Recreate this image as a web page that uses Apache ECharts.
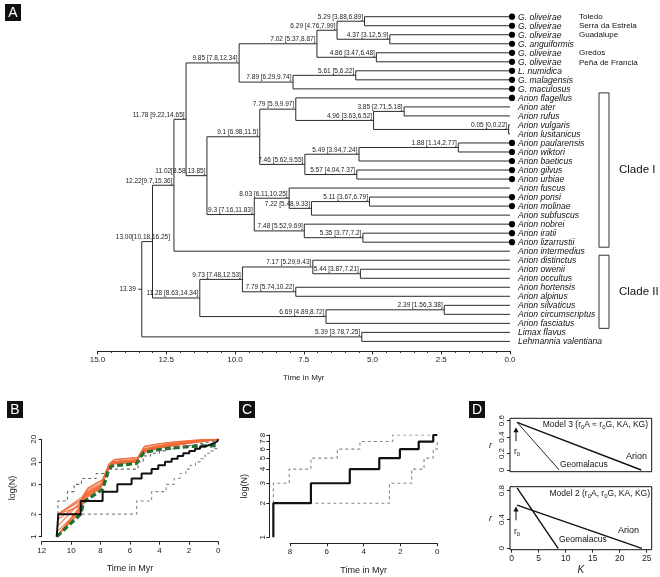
<!DOCTYPE html>
<html><head><meta charset="utf-8">
<script src="https://cdn.jsdelivr.net/npm/echarts@6/dist/echarts.min.js"></script>
<style>html,body{margin:0;padding:0;background:#fff}#c{width:660px;height:577px}</style>
</head><body><div id="c"></div>
<script>
// ---------- Panel A data ----------
const leafNames = ["G. oliveirae","G. oliveirae","G. oliveirae","G. anguiformis","G. oliveirae","G. oliveirae",
  "L. numidica","G. malagensis","G. maculosus","Arion flagellus","Arion ater","Arion rufus","Arion vulgaris",
  "Arion lusitanicus","Arion paularensis","Arion wiktori","Arion baeticus","Arion gilvus","Arion urbiae",
  "Arion fuscus","Arion ponsi","Arion molinae","Arion subfuscus","Arion nobrei","Arion iratii","Arion lizarrustii",
  "Arion intermedius","Arion distinctus","Arion owenii","Arion occultus","Arion hortensis","Arion alpinus",
  "Arion silvaticus","Arion circumscriptus","Arion fasciatus","Limax flavus","Lehmannia valentiana"];
const leafMarked = [1,1,1,1,1,1,1,1,1,1,0,0,0,0,1,1,1,1,1,0,1,1,0,1,1,1,0,0,0,0,0,0,0,0,0,0,0];
const leafPlaces = ["Toledo","Serra da Estrela","Guadalupe","","Gredos","Peña de Francia"];
const nodeAges = [5.29,4.37,6.29,4.86,7.02,5.61,7.89,9.85,3.85,0.05,4.96,7.79,1.88,5.49,5.57,7.46,9.1,
  5.11,7.22,8.03,5.35,7.48,9.3,11.02,11.78,12.22,5.44,7.17,7.79,9.73,2.39,6.69,11.28,13.00,5.39,13.39];
const nodeLabels = ["5.29 [3.88,6.89]","4.37 [3.12,5.9]","6.29 [4.76,7.99]","4.86 [3.47,6.48]","7.02 [5.37,8.87]",
  "5.61 [5,6.22]","7.89 [6.29,9.74]","9.85 [7.8,12.34]","3.85 [2.71,5.18]","0.05 [0,0.22]","4.96 [3.63,6.52]",
  "7.79 [5.9,9.97]","1.88 [1.14,2.77]","5.49 [3.94,7.24]","5.57 [4.04,7.37]","7.46 [5.62,9.55]","9.1 [6.98,11.5]",
  "5.11 [3.67,6.79]","7.22 [5.48,9.33]","8.03 [6.11,10.25]","5.35 [3.77,7.2]","7.48 [5.52,9.69]","9.3 [7.16,11.83]",
  "11.02[8.58,13.85]","11.78 [9.22,14.65]","12.22[9.7,15.36]","5.44 [3.87,7.21]","7.17 [5.29,9.43]",
  "7.79 [5.74,10.22]","9.73 [7.48,12.53]","2.39 [1.56,3.38]","6.69 [4.89,8.72]","11.28 [8.63,14.34]",
  "13.00[10.18,16.25]","5.39 [3.78,7.25]","13.39"];
const nodeKids = [["t0","t1"],["t2","t3"],["n0","n1"],["t4","t5"],["n2","n3"],["t6","t7"],["n5","t8"],["n4","n6"],
  ["t10","t11"],["t12","t13"],["n8","n9"],["t9","n10"],["t14","t15"],["n12","t16"],["t17","t18"],["n13","n14"],
  ["n11","n15"],["t20","t21"],["n17","t22"],["t19","n18"],["t24","t25"],["t23","n20"],["n19","n21"],["n16","n22"],
  ["n7","n23"],["n24","t26"],["t28","t29"],["t27","n26"],["t30","t31"],["n27","n28"],["t32","t33"],["n30","t34"],
  ["n29","n31"],["n25","n32"],["t35","t36"],["n33","n34"]];
const rootEdge = 0.13;
const cladeNames = ["Clade I","Clade II"];
const cladeFirst = [9, 27];
const cladeLast = [25, 34];

// ---------- Panel B data (time in Myr, N lineages) ----------
const bObserved = [[10.98,1],[10.87,2],[9.35,3],[7.86,4],[6.86,5],[5.89,6],[5.21,7],[4.53,8],[4.08,9],[3.62,10],
  [3.17,11],[2.76,12],[2.38,13],[1.97,14],[1.58,15],[1.24,16],[0.9,17],[0.56,18],[0.22,19],[0.05,20],[0,20]];
const bUpper = [[10.9,2],[10.9,3],[10.25,4],[9.8,5],[9.3,6],[8.3,7],[7.5,8],[5.45,10],[5.1,12],[4.6,13],[4.0,14],
  [3.5,15],[3.0,16],[2.3,17],[1.6,18],[0.9,19],[0.2,20],[0,20]];
const bLower = [[10.9,2],[5.55,3],[4.53,4],[3.55,5],[3.0,6],[2.6,7],[2.2,8],[1.9,9],[1.55,10],[1.24,11],[0.9,13],
  [0.56,14],[0.3,15],[0,16]];
const bModel = [[10.98,1],[9.35,2],[9.15,2.9],[7.85,4.3],[7.5,7.3],[7.25,8.8],[5.55,9.5],[5.3,11.5],[5.05,13.3],
  [4.0,14.6],[3.0,15.4],[2.0,16.0],[1.0,16.3],[0,16.5]];
const orangeA = [[10.98,1],[9.4,2.1],[9.05,3.2],[8.0,4.4],[7.6,7.0],[7.25,9.3],[5.6,9.9],[5.2,13.0],[4.0,15.2],[3.0,16.4],[2.0,17.6],[1.0,18.8],[0,19.8]];
const orangeB = [[10.98,1],[9.35,2.4],[9.0,3.5],[8.0,4.6],[7.6,7.4],[7.2,9.6],[5.6,10.1],[5.15,13.6],[4.0,15.6],[3.0,16.8],[2.0,17.9],[1.0,19.0],[0,20]];
const orangeC = [[10.98,1],[9.3,2.7],[9.0,3.7],[7.95,4.8],[7.55,7.8],[7.2,9.8],[5.55,10.3],[5.1,14.2],[4.0,16.0],[3.0,17.2],[2.0,18.2],[1.0,19.2],[0,20]];
const orangeD = [[10.9,1.4],[9.35,2.9],[8.95,3.9],[7.95,5.0],[7.5,8.2],[7.15,10.0],[5.55,10.5],[5.1,14.6],[4.0,16.3],[3.0,17.4],[2.0,18.4],[1.0,19.3],[0,20]];
const orangeE = [[10.9,2],[9.35,3.0],[8.9,4.1],[7.9,5.2],[7.5,8.6],[7.1,10.2],[5.5,10.8],[5.05,15.0],[4.0,16.6],[3.0,17.7],[2.0,18.6],[1.0,19.5],[0,20]];
const orangeF = [[10.9,2],[9.3,2.6],[9.0,3.6],[7.95,4.7],[7.55,7.6],[7.2,9.7],[5.6,10.2],[5.15,13.9],[4.0,15.9],[3.0,17.0],[2.0,18.0],[1.0,19.1],[0,20]];
const orangeG = [[10.98,1],[9.4,2.2],[9.05,3.3],[8.0,4.5],[7.6,7.2],[7.25,9.5],[5.6,10.0],[5.2,13.3],[4.0,15.4],[3.0,16.6],[2.0,17.8],[1.0,18.9],[0,19.9]];
const orangeH = [[10.9,1.7],[9.35,2.8],[9.0,3.8],[7.9,4.9],[7.5,8.0],[7.15,9.9],[5.5,10.6],[5.1,14.4],[4.0,16.2],[3.0,17.3],[2.0,18.3],[1.0,19.3],[0,20]];
const orangeI = [[10.9,2],[9.3,3.2],[8.9,4.3],[7.9,5.6],[7.45,9.2],[7.1,10.6],[5.5,11.3],[5.05,15.8],[4.0,17.3],[3.0,18.2],[2.0,19.0],[1.0,19.7],[0,20]];
const orangeJ = [[10.98,1],[9.35,2.5],[9.0,3.6],[7.95,4.7],[7.55,7.7],[7.2,9.7],[5.55,10.2],[5.1,14.0],[4.0,15.8],[3.0,17.0],[2.0,18.1],[1.0,19.1],[0,20]];
const orangeK = [[10.9,2],[9.25,3.4],[8.85,4.5],[7.85,5.8],[7.4,9.5],[7.05,10.8],[5.45,11.5],[5.0,16.2],[4.0,17.6],[3.0,18.5],[2.0,19.2],[1.0,19.8],[0,20]];
const orangeL = [[10.9,1.2],[9.4,2.3],[9.05,3.4],[8.0,4.5],[7.6,7.3],[7.25,9.4],[5.6,10.0],[5.2,13.2],[4.0,15.3],[3.0,16.5],[2.0,17.7],[1.0,18.9],[0,19.9]];
const bOrangeRuns = [orangeA,orangeB,orangeC,orangeD,orangeE,orangeF,orangeG,orangeH,orangeI,orangeJ,orangeK,orangeL];
const bNTicks = [1,2,5,10,20];

// ---------- Panel C data ----------
const cObserved = [[8.9,1],[8.9,2],[6.86,3],[4.75,4],[3.15,5],[2.03,6],[1.01,7],[0.22,8],[0,8]];
const cUpper = [[8.9,2],[8.9,3],[8.04,4],[6.86,5],[5.43,6],[4.2,7],[2.42,8],[0,8]];
const cLower = [[8.9,2],[2.6,3],[1.39,4],[0.72,5],[0.22,6],[0,7]];
const cNTicks = [1,2,3,4,5,6,7,8];

// ---------- Panel D data ----------
const dM3Arion = [[1,0.58],[24,0]];
const dM3Geo = [[1,0.58],[8.8,0]];
const dM2Arion = [[1,0.6],[24.1,0]];
const dM2Geo = [[1,0.84],[8.6,0]];
const dArrowTop = [0.8, 0.35, 0.52];   // K, r from, r to
const dArrowBot = [0.8, 0.39, 0.58];
const dKTicks = [0,5,10,15,20,25];
const dTopRTicks = [0,0.2,0.4,0.6];
const dBotRTicks = [0,0.4,0.8];

// ---------- build tree geometry ----------
const nodeY = [];
const yOf = k => k[0] === 't' ? +k.slice(1) : nodeY[+k.slice(1)];
const ageOf = k => k[0] === 't' ? 0 : nodeAges[+k.slice(1)];
const segs = [];
nodeKids.forEach((kids, i) => {
  const ya = yOf(kids[0]), yb = yOf(kids[1]);
  nodeY[i] = (ya + yb) / 2;
  segs.push([nodeAges[i], ya, nodeAges[i], yb]);
  kids.forEach(k => segs.push([nodeAges[i], yOf(k), ageOf(k), yOf(k)]));
});
const rootIdx = nodeAges.length - 1;
segs.push([nodeAges[rootIdx] + rootEdge, nodeY[rootIdx], nodeAges[rootIdx], nodeY[rootIdx]]);
const labelNudgePx = {33: 19};

const FONT = "Liberation Sans, Arial, sans-serif";
const log = v => Math.log10(v);
const toLog = arr => arr.map(p => [p[0], log(p[1])]);

const axisBase = (extra) => Object.assign({
  type: 'value', splitLine: {show: false},
  axisLine: {show: true, onZero: false, lineStyle: {color: '#222', width: 1}},
  axisTick: {show: true, length: 3, lineStyle: {color: '#222'}},
  axisLabel: {color: '#222', fontSize: 8, fontFamily: FONT},
  nameTextStyle: {color: '#222', fontSize: 9, fontFamily: FONT}
}, extra);

const chart = echarts.init(document.getElementById('c'), null, {renderer: 'canvas'});

const series = [];
// tree segments
series.push({
  type: 'custom', xAxisIndex: 0, yAxisIndex: 0, data: segs, encode: {x: [0, 2], y: [1, 3]},
  clip: false, silent: true,
  renderItem: (p, api) => {
    const a = api.coord([api.value(0), api.value(1)]);
    const b = api.coord([api.value(2), api.value(3)]);
    return {type: 'line', shape: {x1: a[0], y1: a[1], x2: b[0], y2: b[1]},
      style: {stroke: '#2a2a2a', lineWidth: 1}};
  }
});
// node labels
series.push({
  type: 'custom', xAxisIndex: 0, yAxisIndex: 0, clip: false, silent: true,
  data: nodeAges.map((a, i) => [a, nodeY[i], i]),
  renderItem: (p, api) => {
    const i = api.value(2);
    const c = api.coord([api.value(0), api.value(1)]);
    if (i === rootIdx) {
      return {type: 'text', x: c[0] - 6, y: c[1],
        style: {text: nodeLabels[i], align: 'right', verticalAlign: 'middle', fontSize: 6.5, fontFamily: FONT, fill: '#222'}};
    }
    return {type: 'text', x: c[0] - 1.5 + (labelNudgePx[i] || 0), y: c[1] - 1,
      style: {text: nodeLabels[i], align: 'right', verticalAlign: 'bottom', fontSize: 6.5, fontFamily: FONT, fill: '#222'}};
  }
});
// leaves
series.push({
  type: 'custom', xAxisIndex: 0, yAxisIndex: 0, clip: false, silent: true,
  data: leafNames.map((n, i) => [0, i, i]),
  renderItem: (p, api) => {
    const i = api.value(2);
    const c = api.coord([0, api.value(1)]);
    const kids = [];
    if (leafMarked[i]) kids.push({type: 'circle', shape: {cx: c[0] + 2, cy: c[1], r: 3.1}, style: {fill: '#000'}});
    kids.push({type: 'text', x: c[0] + 8, y: c[1] + 0.5,
      style: {text: leafNames[i], align: 'left', verticalAlign: 'middle', fontSize: 8.6, fontStyle: 'italic', fontFamily: FONT, fill: '#111'}});
    if (leafPlaces[i]) kids.push({type: 'text', x: c[0] + 69, y: c[1] + 0.5,
      style: {text: leafPlaces[i], align: 'left', verticalAlign: 'middle', fontSize: 8, fontFamily: FONT, fill: '#111'}});
    return {type: 'group', children: kids};
  }
});
// clade brackets
series.push({
  type: 'custom', xAxisIndex: 0, yAxisIndex: 0, clip: false, silent: true,
  data: cladeNames.map((n, i) => [0, cladeFirst[i], cladeLast[i], i]),
  renderItem: (p, api) => {
    const i = api.value(3);
    const a = api.coord([0, api.value(1)]);
    const b = api.coord([0, api.value(2)]);
    const x = a[0] + 89, y0 = a[1] - 5, y1 = b[1] + 5;
    return {type: 'group', children: [
      {type: 'rect', shape: {x: x, y: y0, width: 10, height: y1 - y0}, style: {fill: 'none', stroke: '#333', lineWidth: 1}},
      {type: 'text', x: x + 20, y: (y0 + y1) / 2,
        style: {text: cladeNames[i], align: 'left', verticalAlign: 'middle', fontSize: 11.5, fontFamily: FONT, fill: '#111'}}
    ]};
  }
});

// Panel B
bOrangeRuns.forEach(run => series.push({
  type: 'line', xAxisIndex: 1, yAxisIndex: 1, data: toLog(run), symbol: 'none', silent: true,
  lineStyle: {color: '#f36a3a', width: 1.1, opacity: 0.9}
}));
series.push({type: 'line', xAxisIndex: 1, yAxisIndex: 1, data: toLog(bModel), symbol: 'none', silent: true,
  lineStyle: {color: '#1d6f2e', width: 3.2, type: [6, 3]}});
series.push({type: 'line', xAxisIndex: 1, yAxisIndex: 1, data: toLog(bUpper), step: 'end', symbol: 'none', silent: true,
  lineStyle: {color: '#666', width: 1.1, type: [3, 3]}});
series.push({type: 'line', xAxisIndex: 1, yAxisIndex: 1, data: toLog(bLower), step: 'end', symbol: 'none', silent: true,
  lineStyle: {color: '#888', width: 1.1, type: [3, 3]}});
series.push({type: 'line', xAxisIndex: 1, yAxisIndex: 1, data: toLog(bObserved), step: 'end', symbol: 'none', silent: true,
  lineStyle: {color: '#111', width: 2}});

// Panel C
series.push({type: 'line', xAxisIndex: 2, yAxisIndex: 2, data: toLog(cUpper), step: 'end', symbol: 'none', silent: true,
  lineStyle: {color: '#888', width: 1.1, type: [3, 3]}});
series.push({type: 'line', xAxisIndex: 2, yAxisIndex: 2, data: toLog(cLower), step: 'end', symbol: 'none', silent: true,
  lineStyle: {color: '#888', width: 1.1, type: [3, 3]}});
series.push({type: 'line', xAxisIndex: 2, yAxisIndex: 2, data: toLog(cObserved), step: 'end', symbol: 'none', silent: true,
  lineStyle: {color: '#111', width: 2.2}});

// Panel D
const dLine = (xi, data, w) => ({type: 'line', xAxisIndex: xi, yAxisIndex: xi, data: data, symbol: 'none', silent: true,
  lineStyle: {color: '#111', width: w}});
series.push(dLine(4, dM3Arion, 1.4), dLine(4, dM3Geo, 0.9), dLine(5, dM2Arion, 1.4), dLine(5, dM2Geo, 1.4));
[[4, dArrowTop], [5, dArrowBot]].forEach(([xi, d]) => series.push({
  type: 'custom', xAxisIndex: xi, yAxisIndex: xi, data: [d], clip: false, silent: true,
  encode: {x: 0, y: [1, 2]},
  renderItem: (p, api) => {
    const a = api.coord([api.value(0), api.value(1)]);
    const b = api.coord([api.value(0), api.value(2)]);
    return {type: 'group', children: [
      {type: 'line', shape: {x1: a[0], y1: a[1], x2: b[0], y2: b[1] + 4}, style: {stroke: '#111', lineWidth: 1}},
      {type: 'polygon', shape: {points: [[b[0], b[1]], [b[0] - 2.6, b[1] + 5], [b[0] + 2.6, b[1] + 5]]}, style: {fill: '#111'}}
    ]};
  }
}));

const panelBox = (x, y, letter) => ({type: 'group', left: x, top: y, children: [
  {type: 'rect', shape: {x: 0, y: 0, width: 16, height: 17}, style: {fill: '#111'}},
  {type: 'text', x: 8, y: 9, style: {text: letter, fill: '#fff', fontSize: 14, fontFamily: FONT, align: 'center', verticalAlign: 'middle'}}
]});
const dText = (x, y, text, size, align) => ({type: 'text', x: x, y: y,
  style: {text: text, fontSize: size, fontFamily: FONT, fill: '#111', align: align || 'left', verticalAlign: 'middle', rich: {
    s: {fontSize: size * 0.7, fontFamily: FONT, fill: '#111', padding: [5, 0, 0, 0]}, t: {fontSize: size, fontFamily: FONT, fill: '#111'}}}});

chart.setOption({
  animation: false,
  backgroundColor: '#fff',
  grid: [
    {left: 97.5, width: 412.5, top: 12.2, height: 333.7},
    {left: 41.7, width: 176.6, top: 439.3, height: 97.4},
    {left: 269.3, width: 168, top: 435, height: 102.3},
    {left: 290, width: 147.3, top: 435, height: 102.3},
    {left: 510, width: 141.7, top: 418.3, height: 53.4, show: true, borderColor: '#111', borderWidth: 1, backgroundColor: 'transparent'},
    {left: 510, width: 141.7, top: 486.7, height: 63, show: true, borderColor: '#111', borderWidth: 1, backgroundColor: 'transparent'}
  ],
  xAxis: [
    axisBase({gridIndex: 0, min: 0, max: 15, interval: 2.5, inverse: true, offset: 5,
      axisTick: {show: true, length: 3.5, lineStyle: {color: '#222'}},
      minorTick: {show: true, splitNumber: 5, length: 2, lineStyle: {color: '#222'}},
      axisLabel: {color: '#222', fontSize: 8, fontFamily: FONT, margin: 5, formatter: v => v.toFixed(1)},
      name: 'Time in Myr', nameLocation: 'middle', nameGap: 23, nameTextStyle: {color: '#222', fontSize: 8, fontFamily: FONT}}),
    axisBase({gridIndex: 1, min: 0, max: 12, interval: 2, inverse: true, offset: 5,
      axisLabel: {color: '#222', fontSize: 8, fontFamily: FONT, margin: 5},
      name: 'Time in Myr', nameLocation: 'middle', nameGap: 22}),
    {type: 'value', gridIndex: 2, min: 0, max: 9.12, inverse: true, show: false},
    axisBase({gridIndex: 3, min: 0, max: 8, interval: 2, inverse: true, offset: 6,
      axisLabel: {color: '#222', fontSize: 8, fontFamily: FONT, margin: 4},
      name: 'Time in Myr', nameLocation: 'middle', nameGap: 23}),
    {type: 'value', gridIndex: 4, min: -0.31, max: 25.93, show: false},
    axisBase({gridIndex: 5, min: -0.31, max: 25.93, axisLine: {show: false, onZero: false},
      axisTick: {show: true, length: 3, customValues: dKTicks, lineStyle: {color: '#222'}},
      axisLabel: {color: '#222', fontSize: 8.5, fontFamily: FONT, margin: 4, customValues: dKTicks},
      name: 'K', nameLocation: 'middle', nameGap: 16, nameTextStyle: {color: '#222', fontSize: 10, fontStyle: 'italic', fontFamily: FONT}})
  ],
  yAxis: [
    {type: 'value', gridIndex: 0, min: -0.5, max: 36.5, inverse: true, show: false},
    axisBase({gridIndex: 1, min: 0, max: log(20),
      axisTick: {show: true, length: 3, customValues: bNTicks.map(log), lineStyle: {color: '#222'}},
      axisLabel: {color: '#222', fontSize: 8, fontFamily: FONT, margin: 4, rotate: 90, customValues: bNTicks.map(log),
        formatter: v => String(Math.round(Math.pow(10, v)))},
      name: 'log(N)', nameLocation: 'middle', nameGap: 25, nameRotate: 90}),
    axisBase({gridIndex: 2, min: 0, max: log(8),
      axisTick: {show: true, length: 3, customValues: cNTicks.map(log), lineStyle: {color: '#222'}},
      axisLabel: {color: '#222', fontSize: 8, fontFamily: FONT, margin: 3, rotate: 90, customValues: cNTicks.map(log),
        formatter: v => String(Math.round(Math.pow(10, v)))},
      name: 'log(N)', nameLocation: 'middle', nameGap: 20, nameRotate: 90}),
    {type: 'value', gridIndex: 3, min: 0, max: 1, show: false},
    axisBase({gridIndex: 4, min: -0.021, max: 0.629, axisLine: {show: false, onZero: false},
      axisTick: {show: true, length: 3, customValues: dTopRTicks, lineStyle: {color: '#222'}},
      axisLabel: {color: '#222', fontSize: 8, fontFamily: FONT, margin: 4, rotate: 90, customValues: dTopRTicks},
      name: 'r', nameLocation: 'middle', nameGap: 18, nameRotate: 0,
      nameTextStyle: {color: '#222', fontSize: 9, fontStyle: 'italic', fontFamily: FONT}}),
    axisBase({gridIndex: 5, min: -0.019, max: 0.856, axisLine: {show: false, onZero: false},
      axisTick: {show: true, length: 3, customValues: dBotRTicks, lineStyle: {color: '#222'}},
      axisLabel: {color: '#222', fontSize: 8, fontFamily: FONT, margin: 4, rotate: 90, customValues: dBotRTicks},
      name: 'r', nameLocation: 'middle', nameGap: 18, nameRotate: 0,
      nameTextStyle: {color: '#222', fontSize: 9, fontStyle: 'italic', fontFamily: FONT}})
  ],
  graphic: [
    panelBox(5, 4, 'A'), panelBox(7, 401, 'B'), panelBox(239, 401, 'C'), panelBox(469, 401, 'D'),
    dText(648, 425, '{t|Model 3 (r}{s|0}{t|A ≈ r}{s|0}{t|G, KA, KG)}', 8.5, 'right'),
    dText(650, 494, '{t|Model 2 (r}{s|0}{t|A, r}{s|0}{t|G, KA, KG)}', 8.5, 'right'),
    dText(514, 452, '{t|r}{s|0}', 8.5),
    dText(514, 532, '{t|r}{s|0}', 8.5),
    dText(626, 457, 'Arion', 9), dText(560, 465, 'Geomalacus', 8.5),
    dText(618, 531, 'Arion', 9), dText(559, 540, 'Geomalacus', 8.5)
  ],
  series: series
});
</script></body></html>
